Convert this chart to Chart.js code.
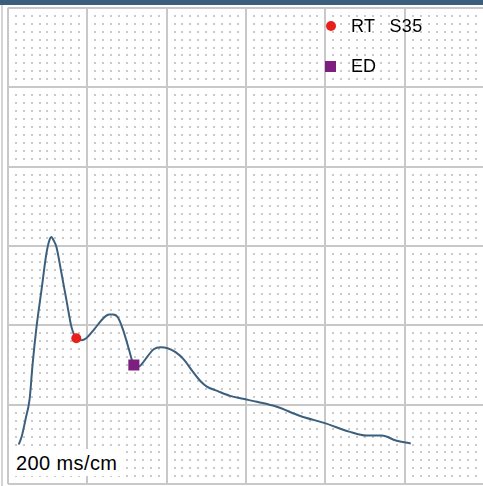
<!DOCTYPE html>
<html>
<head>
<meta charset="utf-8">
<script src="https://cdn.jsdelivr.net/npm/chart.js@4"></script>
<style>
    body { margin: 0; background: #fff; overflow: hidden; }
    #wrap { position: relative; width: 483px; height: 486px; overflow: hidden; background: #fff; }
    #myChart { position: absolute; left: 0; top: 0; }
    #bar { position: absolute; left: 0; top: 0; width: 483px; height: 5px; background: #3d5f7e; }
    #edge { position: absolute; left: 1px; top: 5px; width: 2px; height: 481px; background: #d4d4d4; }
    .txt { position: absolute; font-family: "Liberation Sans", Arial, sans-serif; color: #000; white-space: pre; line-height: 20px; }
    #scale { position: absolute; left: 12px; top: 449px; width: 111px; height: 27px; background: #fff; }
    #rtMark { position: absolute; left: 326px; top: 21px; width: 10px; height: 10px; border-radius: 50%; background: #e8201c; }
    #edMark { position: absolute; left: 325px; top: 61px; width: 11px; height: 11px; background: #7d1f7f; }
</style>
</head>
<body>
<div id="wrap">
    <canvas id="myChart" width="492" height="492"></canvas>
    <div id="bar"></div>
    <div id="edge"></div>
    <div id="rtMark"></div>
    <div class="txt" id="rtLabel" style="left:351px; top:16px; font-size:18px; word-spacing:2px; letter-spacing:0.3px;"></div>
    <div id="edMark"></div>
    <div class="txt" id="edLabel" style="left:351px; top:56px; font-size:18px;"></div>
    <div id="scale"></div>
    <div class="txt" id="scaleLabel" style="left:16px; top:453px; font-size:20px; letter-spacing:0.4px;"></div>
</div>
<script>
// grid units: 1 = one small square (dot spacing), 10 = one big square (1 cm)
var xMm = [1.375, 1.75, 2.25, 2.75, 3.125, 3.625, 4.25, 4.875, 5.25, 5.5, 5.75, 6.125, 6.75, 7.375, 8.0, 8.375, 8.625,
           9.25, 9.875, 10.875, 12.125, 12.75, 13.25, 13.875, 14.5, 15.25, 15.875, 16.375, 16.75, 17.625, 18.375,
           19.25, 20.125, 21.125, 22.125, 23.25, 24.25, 25.125, 26.375, 28.0, 29.625, 31.375, 33.875, 36.75,
           40.125, 43.0, 45.125, 47.125, 48.875, 50.75];
var yMm = [5.0, 6.0, 8.25, 10.75, 15.125, 19.875, 24.5, 29.125, 30.75, 31.125, 30.75, 29.875, 26.625, 23.25, 19.875, 18.75, 18.375,
           18.125, 18.375, 19.5, 21.0, 21.375, 21.375, 21.0, 19.5, 17.0, 15.0, 14.75, 15.0, 16.125, 17.0,
           17.25, 17.125, 16.625, 15.75, 14.25, 13.0, 12.25, 11.75, 11.125, 10.75, 10.375, 9.75, 8.625,
           7.625, 6.625, 6.125, 6.125, 5.5, 5.125];

var rtPoint = [8.625, 18.375];
var edPoint = [15.875, 15.0];

var rtName = "RT  S35";
var edName = "ED";
var scaleText = "200 ms/cm";

var xMax = 60;
var yMax = 60;

document.getElementById("rtLabel").innerText = rtName;
document.getElementById("edLabel").innerText = edName;
document.getElementById("scaleLabel").innerText = scaleText;

var wave = [];
for (var i = 0; i < xMm.length; i++) {
    wave.push({ x: xMm[i], y: yMm[i] });
}

// small dots between the big grid lines
const dotGrid = {
    id: 'dotGrid',
    beforeDatasetsDraw(chart) {
        const ctx = chart.ctx;
        const xs = chart.scales.x;
        const ys = chart.scales.y;
        ctx.save();
        ctx.fillStyle = '#cacaca';
        for (var i = 0; i <= xMax; i++) {
            if (i % 10 === 0) continue;
            var px = Math.round(xs.getPixelForValue(i));
            for (var j = 0; j <= yMax; j++) {
                if (j % 10 === 0) continue;
                var py = Math.round(ys.getPixelForValue(j));
                ctx.fillRect(px - 1, py - 1, 2, 2);
            }
        }
        ctx.restore();
    }
};

const ctxc = document.getElementById('myChart');
const chart = new Chart(ctxc, {
    type: 'line',
    data: {
        datasets: [
            {
                label: 'wave',
                data: wave,
                borderColor: '#3b5f7d',
                borderWidth: 2,
                pointRadius: 0,
                cubicInterpolationMode: 'monotone',
                order: 2
            },
            {
                label: rtName,
                data: [{ x: rtPoint[0], y: rtPoint[1] }],
                showLine: false,
                pointStyle: 'circle',
                pointRadius: 5,
                pointBorderWidth: 0,
                pointBackgroundColor: '#e8201c',
                order: 1
            },
            {
                label: edName,
                data: [{ x: edPoint[0], y: edPoint[1] }],
                showLine: false,
                pointStyle: 'rect',
                pointRadius: 7.8,
                pointBorderWidth: 0,
                pointBackgroundColor: '#7d1f7f',
                order: 1
            }
        ]
    },
    options: {
        responsive: false,
        animation: false,
        devicePixelRatio: 1,
        layout: { padding: { left: 6, top: 6, right: 6, bottom: 6 } },
        scales: {
            x: {
                type: 'linear',
                min: 0,
                max: xMax,
                ticks: { display: false, stepSize: 10 },
                grid: { color: '#c8c8c8', lineWidth: 2, drawTicks: false },
                border: { display: false },
                afterFit: s => { s.height = 0; }
            },
            y: {
                type: 'linear',
                min: 0,
                max: yMax,
                ticks: { display: false, stepSize: 10 },
                grid: { color: '#c8c8c8', lineWidth: 2, drawTicks: false },
                border: { display: false },
                afterFit: s => { s.width = 0; }
            }
        },
        plugins: {
            legend: { display: false },
            tooltip: { enabled: false }
        }
    },
    plugins: [dotGrid]
});
</script>
</body>
</html>
